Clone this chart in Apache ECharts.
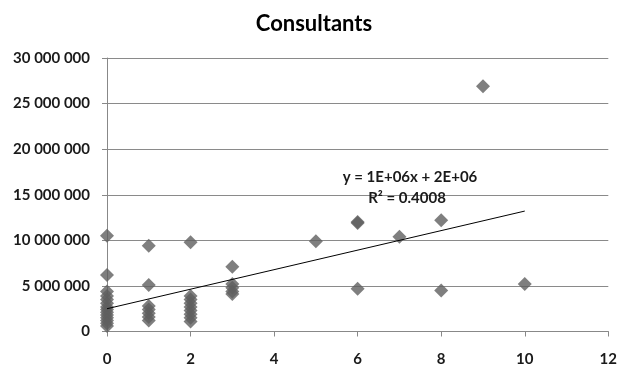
<!DOCTYPE html>
<html>
<head>
<meta charset="utf-8">
<script src="https://cdn.jsdelivr.net/npm/echarts@6/dist/echarts.min.js"></script>
<style>html,body{margin:0;padding:0;background:#fff}#c{width:620px;height:368px}</style>
</head>
<body>
<div id="c"></div>
<script>
// Number of consultants (x) and value (y)
var xs = [0,0,0,0,0,0,0,0,0,0,0,0,0,0,
          1,1,1,1,1,1,1,
          2,2,2,2,2,2,2,2,2,
          3,3,3,3,3,
          5,6,6,6,7,8,8,9,10];
var ys = [10500000,6200000,4400000,3900000,3500000,3100000,2700000,2400000,2100000,1800000,1500000,1200000,900000,600000,
          9400000,5100000,2800000,2400000,2000000,1600000,1200000,
          9800000,3900000,3500000,3100000,2700000,2300000,1900000,1500000,1100000,
          7100000,5200000,4800000,4400000,4100000,
          9900000,12000000,11900000,4700000,10400000,12200000,4500000,26900000,5200000];
var xTicks = [0,2,4,6,8,10,12];
var yTicks = [0,5000000,10000000,15000000,20000000,25000000,30000000];
var titleText = 'Consultants';
var eqText = 'y = 1E+06x + 2E+06';
var r2Text = 'R² = 0.4008';

var pts = xs.map(function(x,i){return [x, ys[i]];});
// least squares trend line over data range
var n = xs.length, sx=0, sy=0, sxy=0, sxx=0, xmin=Infinity, xmax=-Infinity;
for (var i=0;i<n;i++){sx+=xs[i];sy+=ys[i];sxy+=xs[i]*ys[i];sxx+=xs[i]*xs[i];xmin=Math.min(xmin,xs[i]);xmax=Math.max(xmax,xs[i]);}
var m = (n*sxy - sx*sy)/(n*sxx - sx*sx);
var b = (sy - m*sx)/n;
var trend = [[xmin, m*xmin+b],[xmax, m*xmax+b]];

var FONT = 'Lato, "Open Sans", sans-serif';
function fmt(v){return String(v).replace(/\B(?=(\d{3})+(?!\d))/g,' ');}

var chart = echarts.init(document.getElementById('c'));
chart.setOption({
  animation:false,
  backgroundColor:'#fff',
  grid:{left:107,right:11,top:58,bottom:36.5},
  xAxis:{type:'value',min:xTicks[0],max:xTicks[xTicks.length-1],interval:2,
    axisLine:{lineStyle:{color:'#888'}},
    axisTick:{show:true,length:5,lineStyle:{color:'#888'}},
    splitLine:{show:false},
    axisLabel:{fontFamily:FONT,fontWeight:'bold',fontSize:15,color:'#1a1a1a',margin:20}},
  yAxis:{type:'value',min:yTicks[0],max:yTicks[yTicks.length-1],interval:5000000,
    axisLine:{show:true,lineStyle:{color:'#888'}},
    axisTick:{show:true,length:5,lineStyle:{color:'#888'}},
    splitLine:{lineStyle:{color:'#8a8a8a'}},
    axisLabel:{fontFamily:FONT,fontWeight:'bold',fontSize:15,color:'#1a1a1a',margin:17,formatter:fmt}},
  series:[
    {type:'scatter',data:pts,symbol:'diamond',symbolSize:[14,14],
      itemStyle:{color:'#5f5f5f'}},
    {type:'line',data:trend,symbol:'none',lineStyle:{color:'#000',width:1},z:3}
  ],
  graphic:[
    {type:'text',x:314,y:24,style:{text:titleText,fontFamily:FONT,fontWeight:'bold',fontSize:22,fill:'#000',textAlign:'center',textVerticalAlign:'middle'}},
    {type:'text',x:410,y:177,z:10,style:{text:eqText,fontFamily:FONT,fontWeight:'bold',fontSize:15,fill:'#1a1a1a',textAlign:'center',textVerticalAlign:'middle'}},
    {type:'text',x:407,y:198,z:10,style:{text:r2Text,fontFamily:FONT,fontWeight:'bold',fontSize:15,fill:'#1a1a1a',textAlign:'center',textVerticalAlign:'middle'}}
  ]
});
</script>
</body>
</html>
